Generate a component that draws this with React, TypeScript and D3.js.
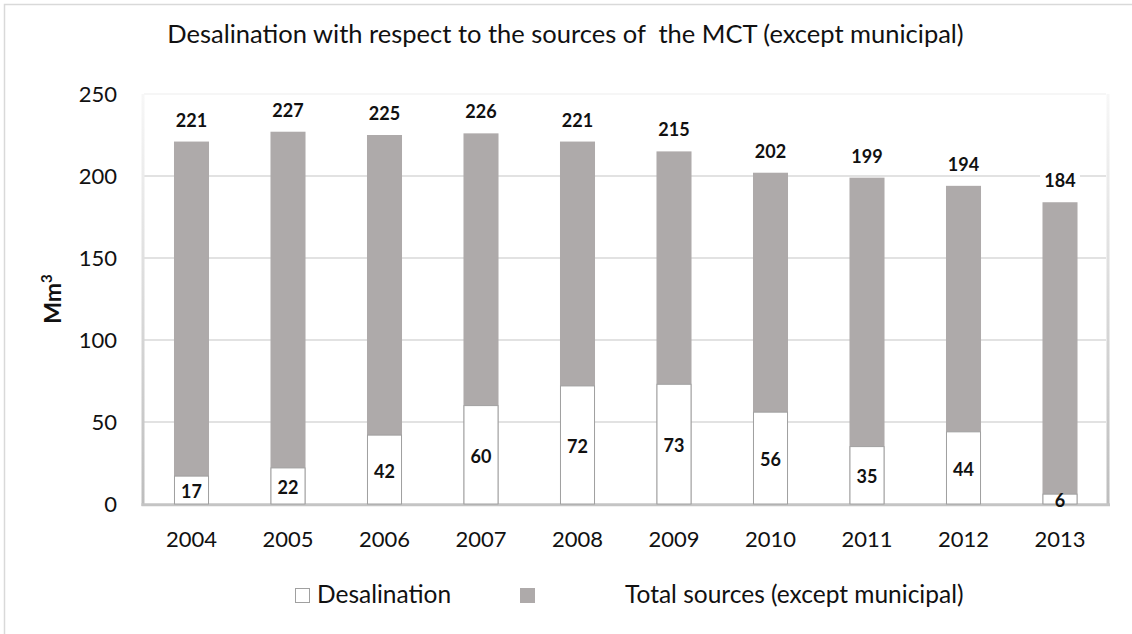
import React from "react";
import * as d3 from "d3";

const years = ["2004", "2005", "2006", "2007", "2008", "2009", "2010", "2011", "2012", "2013"];
const totalSources = [221, 227, 225, 226, 221, 215, 202, 199, 194, 184];
const desalination = [17, 22, 42, 60, 72, 73, 56, 35, 44, 6];
const yTicks = [0, 50, 100, 150, 200, 250];
const title = "Desalination with respect to the sources of  the MCT (except municipal)";
const seriesNames = ["Desalination", "Total sources (except municipal)"];

const W = 1132;
const H = 634;
const FONT = "Lato, 'Open Sans', sans-serif";
const GRAY = "#AEAAAA";

export default function App() {
  const x = d3.scaleBand<string>().domain(years).range([143.25, 1108.25]).paddingInner(0.637).paddingOuter(0.3185);
  const y = d3.scaleLinear().domain([0, 250]).range([504, 94]);
  const bw = x.bandwidth();

  return (
    <svg width={W} height={H} style={{ position: "absolute", left: 0, top: 0, display: "block" }} fontFamily={FONT}>
      <defs>
        <linearGradient id="wall" x1="0" y1="0" x2="0" y2="1">
          <stop offset="0" stopColor="#f7f7f7" />
          <stop offset="1" stopColor="#bdbdbd" />
        </linearGradient>
      </defs>
      <rect x={0} y={0} width={W} height={H} fill="#fff" />
      <rect x={4.5} y={4.5} width={W + 20} height={H + 20} fill="none" stroke="#d9d9d9" strokeWidth={1.5} />

      <text x={565.5} y={43} textAnchor="middle" fontSize={25.5} fill="#111" style={{ whiteSpace: "pre" }}>
        {title}
      </text>

      {/* gridlines */}
      {yTicks.filter((t) => t > 0).map((t) => (
        <line key={t} x1={144} x2={1106} y1={y(t)} y2={y(t)} stroke={t === 250 ? "#f3f3f3" : "#d9d9d9"} strokeWidth={1.5} />
      ))}
      {/* walls */}
      <rect x={141.5} y={y(250)} width={3} height={504 - y(250) + 2} fill="url(#wall)" />
      <rect x={1106.5} y={y(250)} width={3} height={504 - y(250) + 2} fill="url(#wall)" />
      {/* floor */}
      <line x1={141.5} x2={1110} y1={504.8} y2={504.8} stroke="#c4c4c4" strokeWidth={3} />

      {/* y tick labels */}
      {yTicks.map((t) => (
        <text key={t} x={117} y={y(t)} dy="0.36em" textAnchor="end" fontSize={22} fill="#111">
          {t}
        </text>
      ))}
      <text transform={`translate(61,299) rotate(-90)`} textAnchor="middle" fontSize={23} fontWeight="bold" fill="#111">
        Mm<tspan fontSize={15} dy={-9}>3</tspan>
      </text>

      {/* total bars */}
      {years.map((yr, i) => (
        <rect key={"t" + yr} x={x(yr)} y={y(totalSources[i])} width={bw} height={y(0) - y(totalSources[i])} fill={GRAY} />
      ))}
      {/* desalination bars */}
      {years.map((yr, i) => (
        <rect key={"d" + yr} x={(x(yr) as number) + 0.5} y={y(desalination[i])} width={bw - 1} height={y(0) - y(desalination[i])} fill="#fff" stroke="#a0a0a0" strokeWidth={1} />
      ))}

      {/* total labels */}
      {years.map((yr, i) => {
        const cx = (x(yr) as number) + bw / 2;
        const cy = y(totalSources[i]) - 21.5;
        return (
          <g key={"tl" + yr}>
            <rect x={cx - 20} y={cy - 10} width={40} height={20} fill="#fff" />
            <text x={cx} y={cy} dy="0.36em" textAnchor="middle" fontSize={18} fontWeight="bold" fill="#111">
              {totalSources[i]}
            </text>
          </g>
        );
      })}
      {/* desal labels */}
      {years.map((yr, i) => {
        const cx = (x(yr) as number) + bw / 2;
        const cy = (y(desalination[i]) + y(0)) / 2 + 1.5;
        return (
          <text key={"dl" + yr} x={cx} y={cy} dy="0.36em" textAnchor="middle" fontSize={18} fontWeight="bold" fill="#111">
            {desalination[i]}
          </text>
        );
      })}

      {/* x labels */}
      {years.map((yr) => (
        <text key={"x" + yr} x={(x(yr) as number) + bw / 2} y={547} textAnchor="middle" fontSize={22} fill="#111">
          {yr}
        </text>
      ))}

      {/* legend */}
      <rect x={295.5} y={588.5} width={14} height={14} fill="#fff" stroke="#a0a0a0" strokeWidth={1} />
      <text x={317} y={603} fontSize={24.5} fill="#111">{seriesNames[0]}</text>
      <rect x={520} y={588} width={15} height={15} fill={GRAY} />
      <text x={625} y={603} fontSize={24.5} fill="#111">{seriesNames[1]}</text>
    </svg>
  );
}
